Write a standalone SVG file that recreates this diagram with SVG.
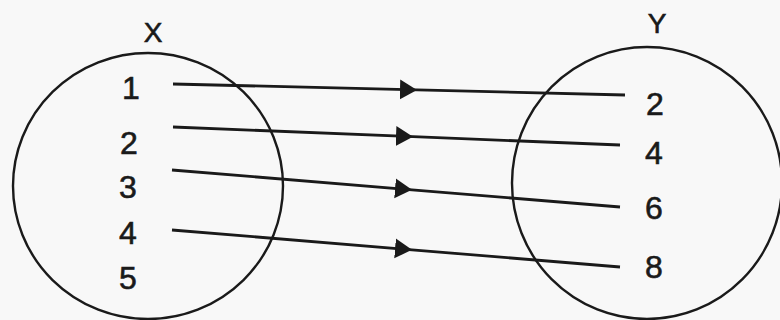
<svg xmlns="http://www.w3.org/2000/svg" width="780" height="320" viewBox="0 0 780 320">
<defs>
<style>
.set{fill:none;stroke:#1a1a1a;stroke-width:2.4}
.lbl{font-family:"Liberation Sans",Arial,sans-serif;font-size:32px;fill:#1a1a1a;stroke:#1a1a1a;stroke-width:0.6;text-anchor:middle;dominant-baseline:central}
.ttl{font-size:28px}
.conn{fill:none;stroke:#1a1a1a;stroke-width:2.8;marker-mid:url(#arr)}
</style>
<marker id="arr" markerUnits="userSpaceOnUse" markerWidth="20" markerHeight="24" refX="17" refY="10" orient="auto" viewBox="0 0 20 24">
<path d="M0,0 L17,10 L0,20 Z" fill="#1a1a1a"/>
</marker>
</defs>
<rect width="780" height="320" fill="#f8f8f8"/>
<g id="setX">
<ellipse class="set" cx="148" cy="186" rx="135" ry="133"/>
<text class="lbl ttl" x="153" y="32">X</text>
<text class="lbl" x="131" y="88">1</text>
<text class="lbl" x="129" y="143">2</text>
<text class="lbl" x="128" y="187">3</text>
<text class="lbl" x="128" y="233">4</text>
<text class="lbl" x="128" y="278">5</text>
</g>
<g id="setY">
<ellipse class="set" cx="647" cy="183" rx="135" ry="136"/>
<text class="lbl ttl" x="657" y="23">Y</text>
<text class="lbl" x="655" y="104">2</text>
<text class="lbl" x="654" y="153">4</text>
<text class="lbl" x="654" y="208">6</text>
<text class="lbl" x="654" y="267">8</text>
</g>
<g id="connectors">
<path class="conn" d="M173,84 L417,89.9 L625,95"/>
<path class="conn" d="M173,127 L413,136.7 L620,145"/>
<path class="conn" d="M172,170 L412,189.8 L620,207"/>
<path class="conn" d="M172,230 L412,249.8 L620,267"/>
</g>
</svg>
